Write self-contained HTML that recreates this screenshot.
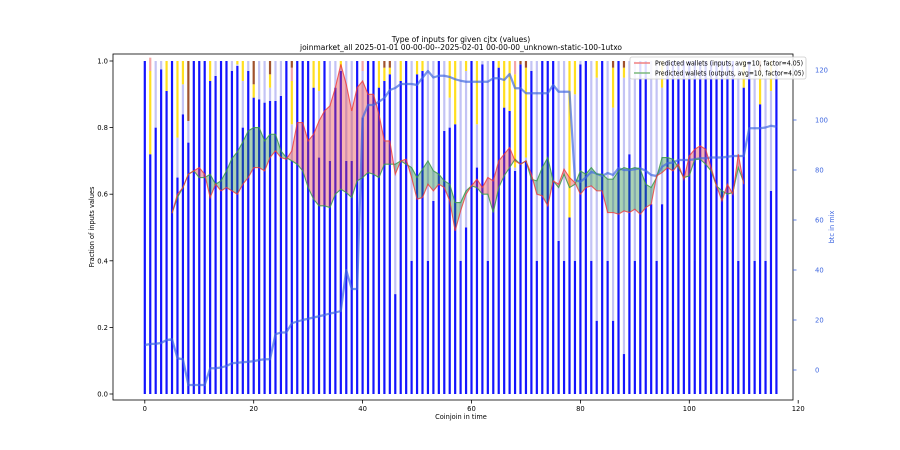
<!DOCTYPE html>
<html><head><meta charset="utf-8"><style>
body{margin:0;background:#fff;}
svg{display:block;font-family:"DejaVu Sans","Liberation Sans",sans-serif;}
</style></head><body>
<svg id="chart" width="900" height="450" viewBox="0 0 900 450" xmlns="http://www.w3.org/2000/svg">
<rect width="900" height="450" fill="#fff"/>
<text x="461" y="42" font-size="7.6" text-anchor="middle" fill="#000">Type of inputs for given cjtx (values)</text>
<text x="461" y="50" font-size="7.6" text-anchor="middle" fill="#000" textLength="322" lengthAdjust="spacingAndGlyphs">joinmarket_all 2025-01-01 00-00-00--2025-02-01 00-00-00_unknown-static-100-1utxo</text>
<g id="bars"></g>
<g id="fills"></g>
<g id="lines"></g>
<g id="axes"></g>
<text x="461" y="419" font-size="6.6" text-anchor="middle">Coinjoin in time</text>
<text transform="translate(94,227) rotate(-90)" font-size="6.6" text-anchor="middle">Fraction of inputs values</text>
<text transform="translate(834,227) rotate(-90)" font-size="6.6" text-anchor="middle" fill="#4169e1">btc in mix</text>
<g>
<rect x="630" y="57" width="176" height="22" fill="#fff" fill-opacity="0.85" stroke="#ccc" stroke-width="0.8" rx="2"/>
<line x1="634" y1="63" x2="650" y2="63" stroke="#f08080" stroke-width="1.5"/>
<text x="655" y="65.5" font-size="6.6" textLength="148" lengthAdjust="spacingAndGlyphs">Predicted wallets (inputs, avg=10, factor=4.05)</text>
<line x1="634" y1="73" x2="650" y2="73" stroke="#7ab87a" stroke-width="1.5"/>
<text x="655" y="75.5" font-size="6.6" textLength="149" lengthAdjust="spacingAndGlyphs">Predicted wallets (outputs, avg=10, factor=4.05)</text>
</g>
</svg>
<script>
// ---- data ----
const blueFrac = [1,.72,.80,.975,.91,1,.65,.84,.755,1,1,1,.94,.955,1,1,.97,.985,.80,.97,.89,.885,.875,.88,.88,.895,1,.70,1,1,1,.92,.71,1,.70,.92,.97,.70,.70,1,.83,1,1,.92,.94,.96,.30,.94,1,.40,.96,.97,.40,.58,1,.79,.80,.81,.40,.50,1,.68,.99,.40,1,.98,.86,.85,.67,.99,.70,.97,.40,1,1,1,.46,.40,.53,.40,.99,1,.40,.22,1,.40,.22,1,.12,.72,.40,1,1,.57,.40,.57,1,1,1,1,1,1,1,1,1,1,1,1,1,.40,.92,1,.40,.87,.40,.61,.97];
const yellowFrac = {1:.25,4:.09,6:.23,7:.07,12:.06,17:.01,18:.06,20:.04,23:.04,27:.13,31:.08,32:.09,36:.02,43:.08,44:.04,45:.02,47:.06,50:.04,51:.03,56:.11,57:.19,59:.03,61:.19,65:.02,66:.14,67:.15,68:.28,70:.27,78:.47,79:.1,83:.05,86:.12,88:.03,95:.08,110:.08,113:.1,115:.09};
const brownFrac = {8:.18,20:.07,23:.04,27:.02,44:.02,45:.02,69:.01,70:.02,86:.02,88:.02,113:.03};
const pinkFrac = {1:.04,27:.04,40:.03,68:.04};
const inputsStart = 5;
const inputsVals = [.543,.60,.62,.66,.67,.68,.66,.59,.63,.61,.62,.61,.60,.63,.65,.68,.68,.67,.71,.73,.71,.705,.73,.815,.815,.76,.78,.82,.85,.865,.92,.99,.93,.85,.92,.94,.90,.90,.84,.76,.76,.66,.70,.705,.65,.585,.59,.63,.61,.63,.62,.58,.49,.55,.60,.625,.645,.62,.65,.64,.70,.72,.74,.70,.69,.70,.66,.60,.595,.565,.64,.63,.675,.65,.635,.60,.62,.625,.61,.61,.545,.545,.54,.55,.545,.555,.54,.56,.57,.655,.665,.68,.67,.69,.645,.715,.735,.745,.735,.68,.625,.58,.63,.60,.72,.63];
const outputsVals = [.543,.59,.62,.66,.67,.65,.65,.66,.63,.64,.67,.707,.727,.757,.79,.80,.80,.76,.78,.78,.73,.71,.70,.69,.67,.62,.585,.565,.565,.56,.60,.615,.605,.59,.64,.65,.665,.66,.65,.69,.69,.69,.70,.69,.68,.65,.675,.70,.67,.66,.64,.63,.575,.575,.61,.625,.62,.60,.60,.545,.62,.655,.68,.705,.69,.70,.645,.64,.68,.71,.64,.62,.66,.62,.63,.67,.66,.68,.66,.66,.645,.645,.67,.68,.675,.68,.675,.63,.62,.65,.71,.71,.705,.68,.65,.655,.705,.705,.69,.67,.625,.61,.60,.605,.68,.635];
const btcVals = [10,10.4,10.5,10.8,12,12.3,4.7,4.3,-6,-6,-6,-6,.7,.7,1,1.6,2.7,2.9,3.1,3.3,3.5,4,4.3,4.3,14.3,15,15,18.7,19.4,20,20.5,21,21.5,22,22.6,23,23.6,40,32.4,32.4,100.8,106,106,107.3,108.8,112,112.8,114.4,114.4,114.4,114,116.9,119.6,117,117.7,117.7,117.2,116.3,115.7,115.3,115.3,115.3,115.3,115.3,116.7,116.7,116,118.4,112.7,112.7,110.7,110.7,110.7,110.7,110.7,114,111.3,111.3,111.3,76,75.3,77,79.3,78.5,77.6,78.8,78,80.7,80,80,80.3,80.7,79.7,78,77.6,81.3,82.7,83,84,84,84,84.3,84.7,84.7,85,85,85,85.3,85.6,85.6,85.6,96.7,96.7,96.7,97,97.7,97.3];
const xTicks = [0,20,40,60,80,100,120];
const yTicks = [0,0.2,0.4,0.6,0.8,1.0];
const y2Ticks = [0,20,40,60,80,100,120];

// ---- axes functions ----
const L=113,R=793,T=54,B=400;
const xS = v => 144.8 + v*5.445;
const yS = v => 394 - v*333;
const y2S = v => 370 - v*2.5;
const NS='http://www.w3.org/2000/svg';
function mk(tag, parent, attrs){const e=document.createElementNS(NS,tag);for(const k in attrs)e.setAttribute(k,attrs[k]);parent.appendChild(e);return e;}

// ---- bars ----
const gb=document.getElementById('bars');
const bw=2.2;
blueFrac.forEach((b,i)=>{
  const y=yellowFrac[i]||0, br=brownFrac[i]||0, pk=pinkFrac[i]||0;
  const lb=Math.max(0,1-b-y-br-pk);
  const segs=[[b,'#1414ff'],[lb,'#c3c3f5'],[y,'#ffdf20'],[pk,'#f4a6a6'],[br,'#a0522d']];
  let acc=0;
  segs.forEach(([v,c],k)=>{
    if(v<=0)return;
    const r=mk('rect',gb,{x:xS(i)-bw/2,y:yS(acc+v),width:bw,height:yS(acc)-yS(acc+v),fill:c});
    
    
    acc+=v;
  });
});

// ---- fills between inputs & outputs ----
const gf=document.getElementById('fills');
for(let k=0;k<inputsVals.length-1;k++){
  const x0=inputsStart+k,x1=x0+1;
  const a0=inputsVals[k],a1=inputsVals[k+1],b0=outputsVals[k],b1=outputsVals[k+1];
  const d0=a0-b0,d1=a1-b1;
  const pieces=[];
  if(d0*d1<0){
    const t=d0/(d0-d1),xm=x0+t,ym=a0+t*(a1-a0);
    pieces.push([[x0,a0],[xm,ym],[x0,b0],d0]);
    pieces.push([[xm,ym],[x1,a1],[x1,b1],d1]);
  } else {
    pieces.push([[x0,a0],[x1,a1],[x1,b1],[x0,b0],d0+d1]);
  }
  pieces.forEach(p=>{
    const s=p.pop();
    if(Math.abs(s)<1e-9)return;
    const pg=mk('polygon',gf,{points:p.map(q=>xS(q[0])+','+yS(q[1])).join(' '),fill:s>0?'#e83a3a':'#1f8a3a','fill-opacity':0.38,stroke:'none'});
    
    
  });
}

// ---- lines ----
const gl=document.getElementById('lines');
const btc=mk('polyline',gl,{points:btcVals.map((v,i)=>xS(i)+','+y2S(v)).join(' '),fill:'none',stroke:'#4169e1','stroke-opacity':0.7,'stroke-width':2.2,'stroke-linejoin':'round'});


const gO=mk('polyline',gl,{points:outputsVals.map((v,i)=>xS(i+inputsStart)+','+yS(v)).join(' '),fill:'none',stroke:'#3a9a4a','stroke-opacity':0.85,'stroke-width':1.1});


const gI=mk('polyline',gl,{points:inputsVals.map((v,i)=>xS(i+inputsStart)+','+yS(v)).join(' '),fill:'none',stroke:'#f03a3a','stroke-opacity':0.8,'stroke-width':1.1});



// ---- axes ----
const ga=document.getElementById('axes');
const fr=mk('rect',ga,{x:L,y:T,width:R-L,height:B-T,fill:'none',stroke:'#000','stroke-width':0.8});


xTicks.forEach(v=>{
  mk('line',ga,{x1:xS(v),x2:xS(v),y1:B,y2:B+3.5,stroke:'#000','stroke-width':0.8});
  const t=mk('text',ga,{x:xS(v),y:B+11,'font-size':6.8,'text-anchor':'middle'});t.textContent=v;
  
  
});
yTicks.forEach(v=>{
  mk('line',ga,{x1:L-3.5,x2:L,y1:yS(v),y2:yS(v),stroke:'#000','stroke-width':0.8});
  const t=mk('text',ga,{x:L-5,y:yS(v)+2.5,'font-size':6.8,'text-anchor':'end'});t.textContent=v.toFixed(1);
  
  
});
y2Ticks.forEach(v=>{
  mk('line',ga,{x1:R,x2:R+3.5,y1:y2S(v),y2:y2S(v),stroke:'#4169e1','stroke-width':0.8});
  const t=mk('text',ga,{x:R+22,y:y2S(v)+2.5,'font-size':6.8,'text-anchor':'start',fill:'#4169e1'});t.textContent=v;
  
  
});
</script>
</body></html>
